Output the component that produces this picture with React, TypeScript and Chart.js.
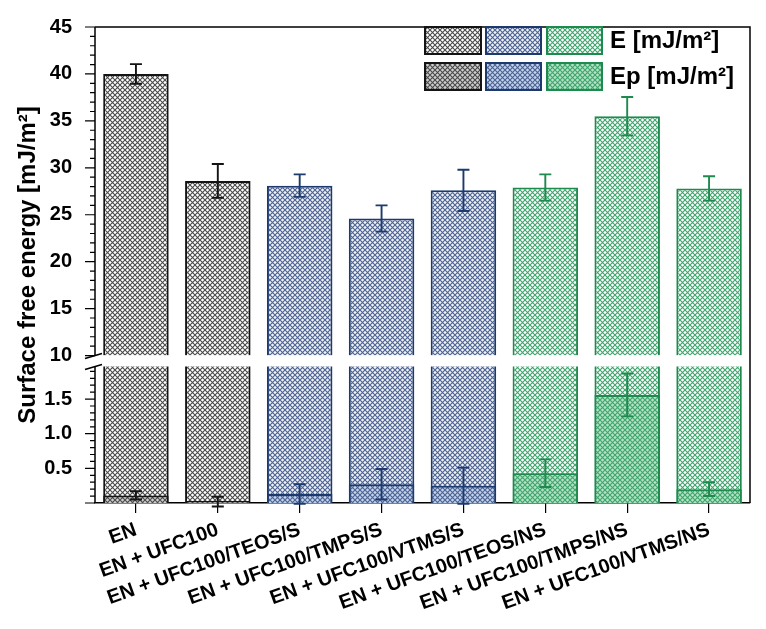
import React, { useEffect, useRef } from 'react';
import { Chart, registerables } from 'chart.js';

Chart.register(...registerables);

// ---------- data ----------
const categories = [
  'EN',
  'EN + UFC100',
  'EN + UFC100/TEOS/S',
  'EN + UFC100/TMPS/S',
  'EN + UFC100/VTMS/S',
  'EN + UFC100/TEOS/NS',
  'EN + UFC100/TMPS/NS',
  'EN + UFC100/VTMS/NS',
];
const eValues = [40.0, 28.6, 28.1, 24.6, 27.6, 27.9, 35.5, 27.8];
const eErrors = [1.05, 1.8, 1.2, 1.4, 2.2, 1.4, 2.05, 1.3];
const epValues = [0.11, 0.02, 0.13, 0.27, 0.25, 0.43, 1.56, 0.2];
const epErrors = [0.06, 0.07, 0.14, 0.22, 0.26, 0.2, 0.31, 0.1];
const groupOf = ['black', 'black', 'blue', 'blue', 'blue', 'green', 'green', 'green'];

const upperTicks = [10, 15, 20, 25, 30, 35, 40, 45];
const lowerTicks = [0.5, 1.0, 1.5];
const UPPER_MIN = 10;
const UPPER_MAX = 45;
const LOWER_MIN = 0;
const LOWER_MAX = 2.128;
const LOWER_VISIBLE_MAX = 1.97;

const legendLabels = ['E [mJ/m²]', 'Ep [mJ/m²]'];
const yTitle = 'Surface free energy [mJ/m²]';

// ---------- styles ----------
const palette: Record<string, { stroke: string; line: string; eBg: string; epBg: string }> = {
  black: { stroke: '#141414', line: '#4a4a4a', eBg: '#ffffff', epBg: '#cfcfcf' },
  blue: { stroke: '#1c3a6e', line: '#4d6290', eBg: '#eef2f9', epBg: '#c3d4ef' },
  green: { stroke: '#1f8a4d', line: '#3fa46d', eBg: '#ffffff', epBg: '#b5e3c6' },
};
const FONT = '"Liberation Sans", Arial, sans-serif';

function makePattern(ctx: CanvasRenderingContext2D, bg: string, fg: string) {
  const c = document.createElement('canvas');
  c.width = 5;
  c.height = 5;
  const g = c.getContext('2d')!;
  g.fillStyle = bg;
  g.fillRect(0, 0, 5, 5);
  g.strokeStyle = fg;
  g.lineWidth = 1.1;
  g.beginPath();
  g.moveTo(-1, -1);
  g.lineTo(6, 6);
  g.moveTo(6, -1);
  g.lineTo(-1, 6);
  g.stroke();
  return ctx.createPattern(c, 'repeat')!;
}

export default function App() {
  const ref = useRef<HTMLCanvasElement>(null);

  useEffect(() => {
    const canvas = ref.current!;
    const ctx = canvas.getContext('2d')!;

    const ePat: Record<string, CanvasPattern> = {};
    const epPat: Record<string, CanvasPattern> = {};
    Object.keys(palette).forEach((k) => {
      ePat[k] = makePattern(ctx, palette[k].eBg, palette[k].line);
      epPat[k] = makePattern(ctx, palette[k].epBg, palette[k].line);
    });
    const strokes = groupOf.map((g) => palette[g].stroke);

    const overlay = {
      id: 'overlay',
      afterDatasetsDraw(chart: any) {
        const { ctx: c, chartArea: a, scales } = chart;
        const x = scales.x;
        const yH = scales.yHigh;
        const yL = scales.yLow;
        c.save();

        // error bars
        const cap = 6;
        const drawErr = (px: number, y1: number, y2: number, color: string) => {
          c.strokeStyle = color;
          c.lineWidth = 1.9;
          c.beginPath();
          c.moveTo(px, y1);
          c.lineTo(px, y2);
          c.moveTo(px - cap, y1);
          c.lineTo(px + cap, y1);
          c.moveTo(px - cap, y2);
          c.lineTo(px + cap, y2);
          c.stroke();
        };
        categories.forEach((_, i) => {
          const px = x.getPixelForValue(i);
          drawErr(px, yH.getPixelForValue(eValues[i] + eErrors[i]), yH.getPixelForValue(eValues[i] - eErrors[i]), strokes[i]);
          drawErr(px, yL.getPixelForValue(epValues[i] + epErrors[i]), yL.getPixelForValue(epValues[i] - epErrors[i]), strokes[i]);
        });

        // break gap
        const gapTop = yH.getPixelForValue(UPPER_MIN);
        const gapBot = yL.getPixelForValue(LOWER_VISIBLE_MAX);
        c.fillStyle = '#ffffff';
        c.fillRect(a.left - 1, gapTop, a.right - a.left, gapBot - gapTop);

        // frame & axis
        c.strokeStyle = '#000';
        c.lineWidth = 1.5;
        c.beginPath();
        c.moveTo(a.left, a.top);
        c.lineTo(a.right, a.top);
        c.lineTo(a.right, a.bottom);
        c.moveTo(a.left, a.top);
        c.lineTo(a.left, gapTop);
        c.moveTo(a.left, gapBot);
        c.lineTo(a.left, a.bottom);
        c.stroke();

        // ticks
        c.lineWidth = 1.2;
        c.beginPath();
        for (let v = UPPER_MIN; v <= UPPER_MAX + 1e-9; v += 1) {
          const py = yH.getPixelForValue(v);
          const len = Math.abs(v % 5) < 1e-6 ? 10 : 5;
          c.moveTo(a.left - len, py);
          c.lineTo(a.left, py);
        }
        for (let k = 0; k <= 19; k++) {
          const v = k / 10;
          const py = yL.getPixelForValue(v);
          const len = k % 5 === 0 ? 10 : 5;
          c.moveTo(a.left - len, py);
          c.lineTo(a.left, py);
        }
        c.stroke();

        // break marks
        c.lineWidth = 1.6;
        c.beginPath();
        c.moveTo(a.left - 10, gapTop + 3);
        c.lineTo(a.left + 7, gapTop - 2);
        c.moveTo(a.left - 10, gapBot + 3);
        c.lineTo(a.left + 7, gapBot - 2);
        c.stroke();

        // legend
        const cols = [425, 486, 547];
        const widths = [56, 55, 55];
        const rows = [{ y: 27, h: 27 }, { y: 63, h: 27 }];
        const groups = ['black', 'blue', 'green'];
        rows.forEach((r, ri) => {
          groups.forEach((g, gi) => {
            c.fillStyle = ri === 0 ? ePat[g] : epPat[g];
            c.fillRect(cols[gi], r.y, widths[gi], r.h);
            c.strokeStyle = palette[g].stroke;
            c.lineWidth = 2;
            c.strokeRect(cols[gi], r.y, widths[gi], r.h);
          });
          c.fillStyle = '#000';
          c.font = `bold 24px ${FONT}`;
          c.textAlign = 'left';
          c.textBaseline = 'middle';
          c.fillText(legendLabels[ri], 610, r.y + r.h / 2 + 1);
        });

        // y title
        c.translate(28, (a.top + a.bottom) / 2);
        c.rotate(-Math.PI / 2);
        c.font = `bold 24px ${FONT}`;
        c.textAlign = 'center';
        c.textBaseline = 'middle';
        c.fillStyle = '#000';
        c.fillText(yTitle, 0, 0);

        c.restore();
      },
    };

    const chart = new Chart(ctx, {
      type: 'bar',
      data: {
        labels: categories,
        datasets: [
          {
            label: 'Ep',
            data: epValues,
            yAxisID: 'yLow',
            order: 0,
            grouped: false,
            backgroundColor: groupOf.map((g) => epPat[g]),
            borderColor: strokes,
            borderWidth: 2,
            categoryPercentage: 1,
            barPercentage: 0.8,
          } as any,
          {
            label: 'E (lower)',
            data: categories.map(() => [LOWER_MIN, LOWER_MAX]),
            yAxisID: 'yLow',
            order: 1,
            grouped: false,
            backgroundColor: groupOf.map((g) => ePat[g]),
            borderColor: strokes,
            borderWidth: 2,
            borderSkipped: 'top',
            categoryPercentage: 1,
            barPercentage: 0.8,
          } as any,
          {
            label: 'E',
            data: eValues.map((v) => [UPPER_MIN, v]),
            yAxisID: 'yHigh',
            order: 1,
            grouped: false,
            backgroundColor: groupOf.map((g) => ePat[g]),
            borderColor: strokes,
            borderWidth: 2,
            borderSkipped: 'bottom',
            categoryPercentage: 1,
            barPercentage: 0.8,
          } as any,
        ],
      },
      options: {
        responsive: false,
        animation: false,
        layout: { padding: { top: 22, right: 16, left: 0, bottom: 0 } },
        plugins: { legend: { display: false }, tooltip: { enabled: false } },
        scales: {
          x: {
            type: 'category',
            offset: true,
            grid: { display: true, drawOnChartArea: false, offset: false, tickLength: 10, color: '#000', lineWidth: 1.2 },
            border: { display: true, color: '#000', width: 1.5 },
            ticks: {
              autoSkip: false,
              minRotation: 20,
              maxRotation: 20,
              padding: 5,
              color: '#000',
              font: { family: FONT, size: 20, weight: 'bold' },
            },
            afterFit: (s: any) => {
              s.height = 126;
            },
          },
          yLow: {
            type: 'linear',
            position: 'left',
            stack: 'y',
            stackWeight: 149,
            min: LOWER_MIN,
            max: LOWER_MAX,
            grid: { display: false },
            border: { display: false },
            afterBuildTicks: (s: any) => {
              s.ticks = lowerTicks.map((v) => ({ value: v }));
            },
            ticks: {
              padding: 15,
              color: '#000',
              font: { family: FONT, size: 20, weight: 'bold' },
              callback: (v: any) => Number(v).toFixed(1),
            },
            afterFit: (s: any) => {
              s.width = 95;
            },
          },
          yHigh: {
            type: 'linear',
            position: 'left',
            stack: 'y',
            stackWeight: 332,
            min: UPPER_MIN,
            max: UPPER_MAX,
            grid: { display: false },
            border: { display: false },
            afterBuildTicks: (s: any) => {
              s.ticks = upperTicks.map((v) => ({ value: v }));
            },
            ticks: {
              padding: 15,
              color: '#000',
              font: { family: FONT, size: 20, weight: 'bold' },
              callback: (v: any) => String(v),
            },
            afterFit: (s: any) => {
              s.width = 95;
            },
          },
        } as any,
      },
      plugins: [overlay as any],
    });

    return () => chart.destroy();
  }, []);

  return (
    <div style={{ position: 'fixed', left: 0, top: 0, width: 766, height: 629, background: '#fff' }}>
      <canvas ref={ref} width={766} height={629} style={{ display: 'block' }} />
    </div>
  );
}
